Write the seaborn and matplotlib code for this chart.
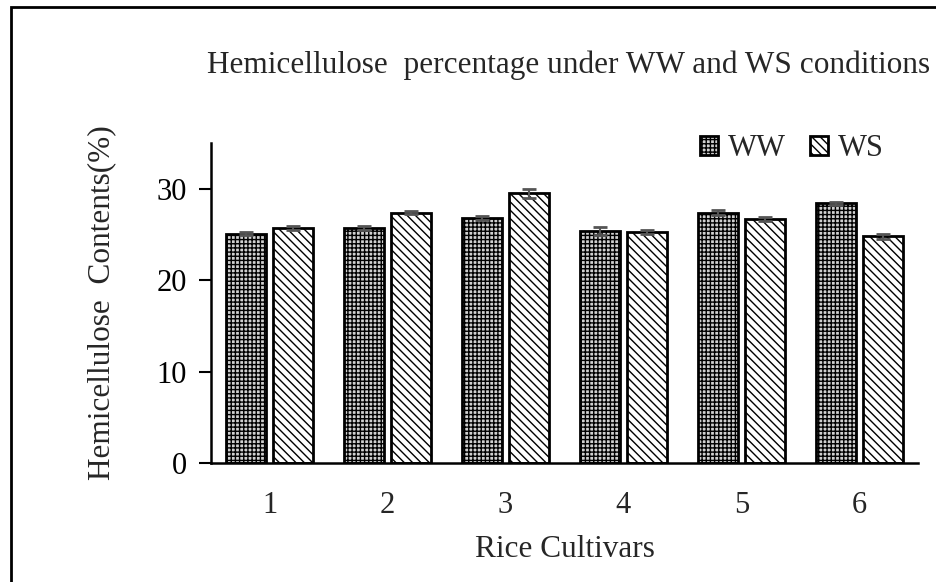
import numpy as np
import pandas as pd
import matplotlib.pyplot as plt
import seaborn as sns
from matplotlib.patches import Rectangle

# data
cultivars = ['1', '2', '3', '4', '5', '6']
ww_mean = [25.1, 25.7, 26.8, 25.4, 27.4, 28.4]
ws_mean = [25.7, 27.4, 29.5, 25.3, 26.7, 24.8]
ww_err = [0.15, 0.2, 0.25, 0.45, 0.25, 0.2]
ws_err = [0.25, 0.2, 0.45, 0.2, 0.2, 0.25]

df = pd.DataFrame({
    'Cultivar': cultivars * 2,
    'Condition': ['WW'] * 6 + ['WS'] * 6,
    'Value': ww_mean + ws_mean,
})
errs = {'WW': ww_err, 'WS': ws_err}

sns.set_theme(style='ticks')
plt.rcParams['font.family'] = ['Liberation Serif', 'DejaVu Serif']
plt.rcParams['hatch.linewidth'] = 1.0

fig = plt.figure(figsize=(9.37, 5.82), dpi=100)
ax = fig.add_axes([0.225, 0.2045, 0.755, 0.5495])

sns.barplot(data=df, x='Cultivar', y='Value', hue='Condition', ax=ax,
            palette={'WW': '#d0d0d0', 'WS': 'white'}, width=0.8, gap=0.15,
            edgecolor='black', linewidth=2, errorbar=None)

hatches = {'WW': '++++', 'WS': '\\\\\\\\'}
for cont, cond in zip(ax.containers, ['WW', 'WS']):
    xs = []
    ys = []
    for bar in cont:
        bar.set_hatch(hatches[cond])
        xs.append(bar.get_x() + bar.get_width() / 2)
        ys.append(bar.get_height())
    ax.errorbar(xs, ys, yerr=errs[cond], fmt='none', ecolor='#555555',
                elinewidth=1.5, capsize=5, capthick=2, zorder=5)

ax.set_ylim(0, 35)
ax.set_xlim(-0.5, 5.5)
ax.set_yticks([0, 10, 20, 30])
ax.tick_params(axis='y', direction='out', length=9, width=1.5, labelsize=22, colors='black', pad=8)
ax.tick_params(axis='x', length=0, labelsize=22, pad=20)
for s in ['top', 'right']:
    ax.spines[s].set_visible(False)
for s in ['left', 'bottom']:
    ax.spines[s].set_linewidth(1.8)
    ax.spines[s].set_color('black')

ax.set_xlabel('Rice Cultivars', fontsize=22.5)
ax.set_ylabel('Hemicellulose  Contents(%)', fontsize=22.5)
ax.xaxis.set_label_coords(0.5, -0.225)
ax.yaxis.set_label_coords(-0.134, 0.5)

handles, labels = ax.get_legend_handles_labels()
for h, cond in zip(handles, labels):
    h.set_hatch(hatches[cond])
ax.legend(handles, labels, loc='upper right', bbox_to_anchor=(0.981, 1.095), ncol=2,
          frameon=False, fontsize=22, handlelength=0.6, handleheight=0.6,
          handletextpad=0.3, columnspacing=0.8, borderpad=0.2)

fig.text(0.607, 0.888, 'Hemicellulose  percentage under WW and WS conditions',
         ha='center', va='center', fontsize=22.5)

fig.patches.append(Rectangle((11 / 937, -0.1), 1.2, 1.1 - 7 / 582, transform=fig.transFigure,
                             fill=False, edgecolor='black', linewidth=2))

fig.savefig('out.png', dpi=100)
